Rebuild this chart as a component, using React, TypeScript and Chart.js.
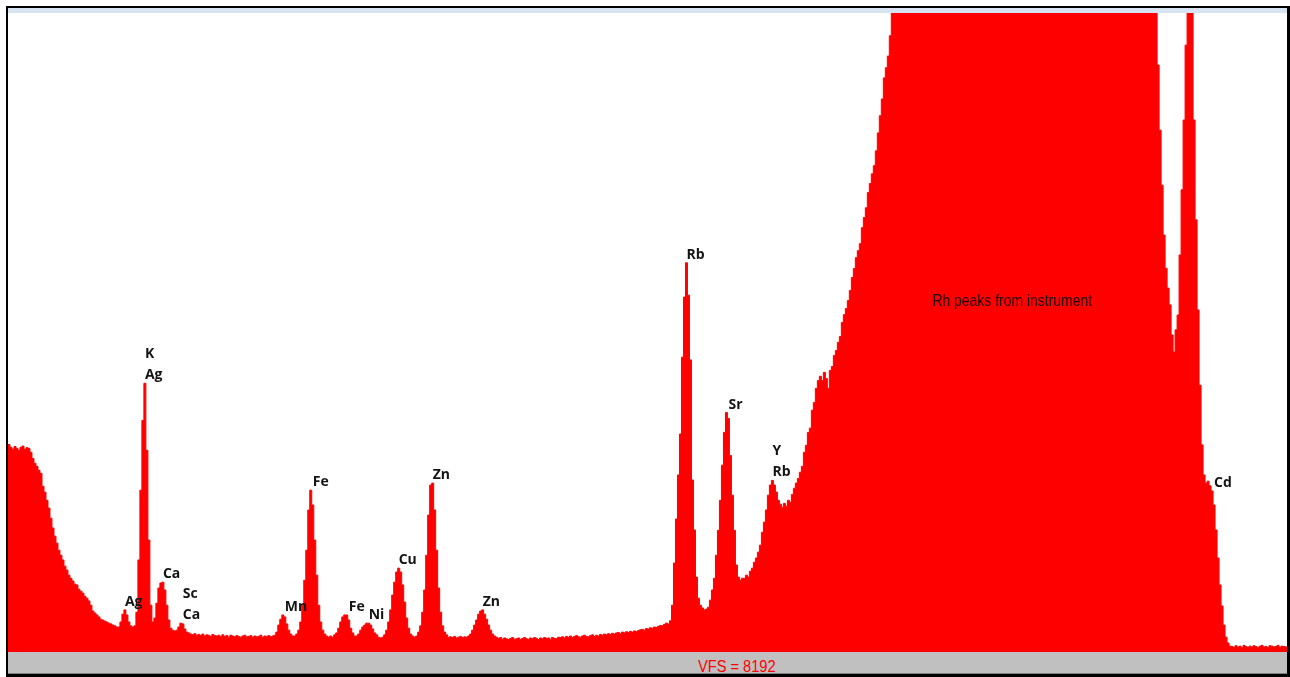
import { useEffect, useRef } from "react";
import { Chart, registerables } from "chart.js";

Chart.register(...registerables);

// Spectrum: 640 channels, counts per channel; display full scale (VFS) = 8192 counts
const CHANNELS = 640;
const FULL_SCALE = 8192;

const counts: number[] = [
  2660, 2625, 2600, 2635, 2610, 2585, 2625, 2640, 2600, 2620,
  2610, 2560, 2480, 2420, 2380, 2330, 2290, 2125, 2050, 1945,
  1845, 1715, 1590, 1485, 1395, 1305, 1240, 1180, 1100, 1050,
  985, 945, 910, 870, 860, 805, 780, 755, 715, 690,
  655, 600, 525, 500, 475, 450, 420, 410, 395, 385,
  370, 360, 345, 335, 320, 320, 385, 485, 540, 475,
  385, 335, 320, 335, 510, 1180, 2075, 2970, 3445, 2585,
  1435, 600, 385, 435, 625, 820, 885, 895, 795, 600,
  410, 305, 280, 270, 280, 320, 370, 360, 295, 255,
  245, 230, 220, 235, 215, 225, 210, 230, 205, 220,
  215, 200, 225, 210, 205, 215, 195, 220, 200, 210,
  190, 215, 205, 195, 210, 200, 190, 205, 215, 195,
  200, 210, 190, 205, 195, 200, 215, 190, 205, 200,
  210, 195, 205, 215, 255, 345, 420, 475, 450, 360,
  280, 230, 205, 205, 230, 280, 385, 600, 920, 1305,
  1820, 2075, 1885, 1435, 985, 600, 385, 280, 230, 205,
  190, 205, 190, 220, 245, 305, 385, 450, 475, 475,
  410, 305, 245, 205, 205, 230, 280, 320, 345, 370,
  370, 345, 295, 245, 220, 190, 180, 190, 220, 280,
  385, 540, 730, 895, 1025, 1075, 1025, 860, 640, 435,
  305, 230, 205, 190, 205, 255, 335, 510, 795, 1240,
  1755, 2140, 2165, 1820, 1305, 820, 510, 335, 255, 220,
  190, 195, 185, 200, 180, 190, 200, 185, 195, 190,
  205, 230, 280, 345, 410, 485, 525, 540, 485, 420,
  345, 280, 230, 205, 190, 175, 185, 165, 180, 170,
  160, 175, 185, 165, 170, 180, 160, 175, 185, 170,
  165, 180, 170, 185, 175, 160, 180, 170, 185, 175,
  180, 165, 185, 175, 170, 190, 185, 195, 180, 200,
  190, 205, 185, 200, 210, 195, 190, 205, 215, 200,
  195, 210, 220, 200, 215, 205, 225, 215, 230, 220,
  235, 225, 240, 230, 245, 250, 235, 255, 245, 260,
  250, 265, 255, 270, 260, 275, 285, 290, 280, 300,
  295, 310, 305, 320, 315, 330, 340, 335, 355, 370,
  360, 400, 600, 1140, 1705, 2270, 2795, 3780, 4550, 4990,
  4575, 3745, 2205, 1565, 960, 690, 600, 565, 540, 550,
  575, 665, 795, 945, 1240, 1560, 1945, 2395, 2815, 3070,
  2995, 2520, 2010, 1560, 1115, 960, 920, 945, 945, 985,
  960, 1035, 1075, 1150, 1205, 1280, 1370, 1535, 1665, 1820,
  2010, 2140, 2200, 2140, 2050, 1945, 1895, 1855, 1905, 1870,
  1945, 1920, 2020, 2100, 2165, 2225, 2305, 2380, 2560, 2650,
  2815, 2870, 3100, 3200, 3380, 3480, 3535, 3480, 3585, 3505,
  3380, 3610, 3660, 3800, 3865, 3970, 4045, 4225, 4325, 4405,
  4505, 4635, 4800, 4915, 5055, 5145, 5235, 5440, 5570, 5695,
  5890, 6005, 6130, 6235, 6425, 6655, 6875, 7090, 7360, 7490,
  7640, 7900, 8350, 8700, 9100, 9600, 10100, 10700, 11300, 11900,
  12400, 12900, 13300, 13800, 14200, 14600, 15100, 15500, 15900, 16300,
  16700, 17100, 17500, 17800, 18200, 18600, 18900, 19300, 19600, 19900,
  20300, 20600, 20900, 21300, 21600, 21900, 22300, 22600, 22900, 23300,
  23600, 24000, 24300, 24700, 25100, 25500, 25900, 26300, 26800, 27200,
  27700, 28200, 28700, 29200, 29800, 30300, 30900, 31500, 32100, 32700,
  33300, 33900, 34500, 35100, 35700, 36200, 36800, 37300, 37800, 38200,
  38600, 39000, 39300, 39600, 39800, 40000, 40100, 40100, 40000, 39800,
  39500, 39100, 38700, 38200, 37700, 37200, 36800, 36500, 36300, 36300,
  36500, 37000, 37800, 39000, 40600, 42600, 45000, 47800, 50800, 54000,
  57200, 60200, 62800, 64800, 66000, 66400, 65800, 64200, 61800, 58600,
  54800, 50400, 45600, 40600, 35600, 30800, 26400, 22500, 19200, 16500,
  14400, 12800, 11700, 10900, 10300, 9900, 9600, 9400, 9200, 9000,
  8900, 8800, 8700, 8600, 8450, 7525, 6690, 5985, 5345, 4920,
  4665, 4450, 4065, 3845, 4130, 4320, 5090, 5925, 6820, 7780,
  9400, 11200, 8500, 6820, 5540, 4385, 3420, 2655, 2270, 2165,
  2190, 2130, 2065, 1885, 1565, 1205, 860, 590, 345, 190,
  115, 75, 70, 60, 80, 65, 75, 55, 85, 70,
  60, 75, 65, 80, 70, 55, 75, 85, 65, 70,
  60, 80, 75, 65, 70, 85, 60, 75, 70, 65,
];

// Element labels: channel where the label starts, and its text lines (top to bottom)
const labelChannels: number[] = [68, 58, 77, 87, 138, 152, 170, 180, 195, 212, 237, 339, 360, 382, 603];
const labelTexts: string[][] = [
  ["K", "Ag"],
  ["Ag"],
  ["Ca"],
  ["Sc", "Ca"],
  ["Mn"],
  ["Fe"],
  ["Fe"],
  ["Ni"],
  ["Cu"],
  ["Zn"],
  ["Zn"],
  ["Rb"],
  ["Sr"],
  ["Y", "Rb"],
  ["Cd"],
];

const noteText = "Rh peaks from instrument";
const noteChannel = 502;
const noteCount = 4500;
const vfsText = "VFS = 8192";

export default function App() {
  const ref = useRef<HTMLCanvasElement | null>(null);

  useEffect(() => {
    if (!ref.current) return;
    const labelPlugin = {
      id: "peakLabels",
      afterDatasetsDraw(chart: any) {
        const { ctx } = chart;
        const xs = chart.scales.x;
        const ys = chart.scales.y;
        ctx.save();
        ctx.fillStyle = "#141414";
        ctx.font = 'bold 14px "Open Sans", "Liberation Sans", sans-serif';
        ctx.textAlign = "left";
        ctx.textBaseline = "middle";
        labelChannels.forEach((ch, n) => {
          const lines = labelTexts[n];
          const top = Math.max(counts[ch - 1], counts[ch], counts[ch + 1]);
          const px = xs.getPixelForValue(ch) + 1;
          const py = ys.getPixelForValue(top) - 8;
          lines.forEach((t, k) => {
            ctx.fillText(t, px, py - (lines.length - 1 - k) * 21);
          });
        });
        // condensed note text
        const nx = xs.getPixelForValue(noteChannel + 0.5);
        const ny = ys.getPixelForValue(noteCount);
        ctx.fillStyle = "#1c0000";
        ctx.font = '17px "Liberation Sans", Arial, sans-serif';
        ctx.textAlign = "center";
        ctx.translate(nx, ny);
        ctx.scale(0.82, 1);
        ctx.fillText(noteText, 0, 0);
        ctx.restore();
      },
    };

    const points = counts.map((v, i) => ({ x: i, y: v }));
    points.push({ x: CHANNELS, y: counts[CHANNELS - 1] });

    const chart = new Chart(ref.current, {
      type: "line",
      data: {
        datasets: [
          {
            data: points,
            stepped: true,
            fill: "origin",
            backgroundColor: "#ff0000",
            borderColor: "#ff0000",
            borderWidth: 1,
            pointRadius: 0,
            tension: 0,
          },
        ],
      },
      options: {
        responsive: false,
        animation: false,
        events: [],
        layout: { padding: 0 },
        plugins: {
          legend: { display: false },
          tooltip: { enabled: false },
          title: { display: false },
        },
        scales: {
          x: { type: "linear", min: 0, max: CHANNELS, display: false },
          y: { type: "linear", min: 0, max: FULL_SCALE, display: false },
        },
      },
      plugins: [labelPlugin],
    } as any);
    return () => chart.destroy();
  }, []);

  return (
    <div
      style={{
        position: "absolute",
        left: 6,
        top: 6,
        width: 1284,
        height: 671,
        boxSizing: "border-box",
        borderStyle: "solid",
        borderColor: "#000",
        borderWidth: "2px 3px 3px 2px",
        background: "#fff",
        overflow: "hidden",
      }}
    >
      <div style={{ height: 5, background: "#d7e3f0" }} />
      <canvas ref={ref} width={1279} height={639} style={{ display: "block", width: 1279, height: 639 }} />
      <div
        style={{
          position: "relative",
          height: 21,
          background: "#c0c0c0",
          borderBottom: "1px solid #808080",
        }}
      >
        <span
          style={{
            position: "absolute",
            left: 690,
            top: 7,
            lineHeight: "16px",
            fontSize: 17,
            fontFamily: '"Liberation Sans", Arial, sans-serif',
            color: "#ff0000",
            whiteSpace: "nowrap",
            transform: "scaleX(0.86)",
            transformOrigin: "0 0",
          }}
        >
          {vfsText}
        </span>
      </div>
    </div>
  );
}
